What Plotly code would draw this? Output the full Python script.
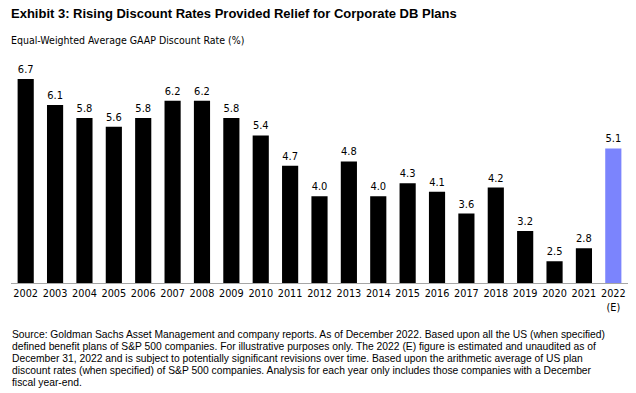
import plotly.graph_objects as go

years = ["2002", "2003", "2004", "2005", "2006", "2007", "2008", "2009", "2010", "2011",
         "2012", "2013", "2014", "2015", "2016", "2017", "2018", "2019", "2020", "2021", "2022<br>(E)"]
rates = [6.7, 6.1, 5.8, 5.6, 5.8, 6.2, 6.2, 5.8, 5.4, 4.7,
         4.0, 4.8, 4.0, 4.3, 4.1, 3.6, 4.2, 3.2, 2.5, 2.8, 5.1]
colors = ["#000000"] * 20 + ["#7b84fd"]

title_text = "Exhibit 3: Rising Discount Rates Provided Relief for Corporate DB Plans"
subtitle_text = "Equal-Weighted Average GAAP Discount Rate (%)"
footnote_lines = [
    "Source: Goldman Sachs Asset Management and company reports. As of December 2022. Based upon all the US (when specified)",
    "defined benefit plans of S&P 500 companies. For illustrative purposes only. The 2022 (E) figure is estimated and unaudited as of",
    "December 31, 2022 and is subject to potentially significant revisions over time. Based upon the arithmetic average of US plan",
    "discount rates (when specified) of S&P 500 companies. Analysis for each year only includes those companies with a December",
    "fiscal year-end.",
]

cond = "DejaVu Sans Condensed, Liberation Sans Narrow, sans-serif"
arial = "Liberation Sans, Arial, sans-serif"

fig = go.Figure(go.Bar(
    x=years, y=rates,
    marker=dict(color=colors, line=dict(width=0)),
    text=[f"{v:.1f}" for v in rates],
    textposition="outside",
    textfont=dict(family=cond, size=11, color="#000000"),
    cliponaxis=False,
))

W, H = 636, 393
ml, mr, mt, mb = 11, 8, 66, 110
ph = H - mt - mb
pw = W - ml - mr

def py(pix):
    return (H - mb - pix) / ph

x0 = (9 - ml) / pw

annotations = [
    dict(text=title_text, xref="paper", yref="paper", x=x0,
         y=py(13.5), xanchor="left", yanchor="middle", showarrow=False,
         font=dict(family=arial, size=13, color="#000000", weight="bold")),
    dict(text=subtitle_text, xref="paper", yref="paper", x=x0,
         y=py(40), xanchor="left", yanchor="middle", showarrow=False,
         font=dict(family=cond, size=10.5, color="#000000")),
]
for i, line in enumerate(footnote_lines):
    annotations.append(dict(
        text=line, xref="paper", yref="paper", x=(10 - ml) / pw,
        y=py(334.5 + i * 11.9), xanchor="left", yanchor="middle", showarrow=False, align="left",
        font=dict(family=arial, size=10.3, color="#000000")))

fig.update_layout(
    width=W, height=H,
    margin=dict(l=ml, r=mr, t=mt, b=mb, autoexpand=False),
    plot_bgcolor="white", paper_bgcolor="white",
    bargap=0.45,
    showlegend=False,
    xaxis=dict(
        showline=True, linecolor="#a6a6a6", linewidth=1,
        ticks="", showgrid=False, tickangle=0, automargin=False,
        tickfont=dict(family=cond, size=10.8, color="#000000"),
        fixedrange=True,
    ),
    yaxis=dict(range=[2, 7], visible=False, showgrid=False, fixedrange=True),
    annotations=annotations,
)

fig.write_html("out.html", config={"displayModeBar": False},
               post_script="document.body.style.margin='0';")
